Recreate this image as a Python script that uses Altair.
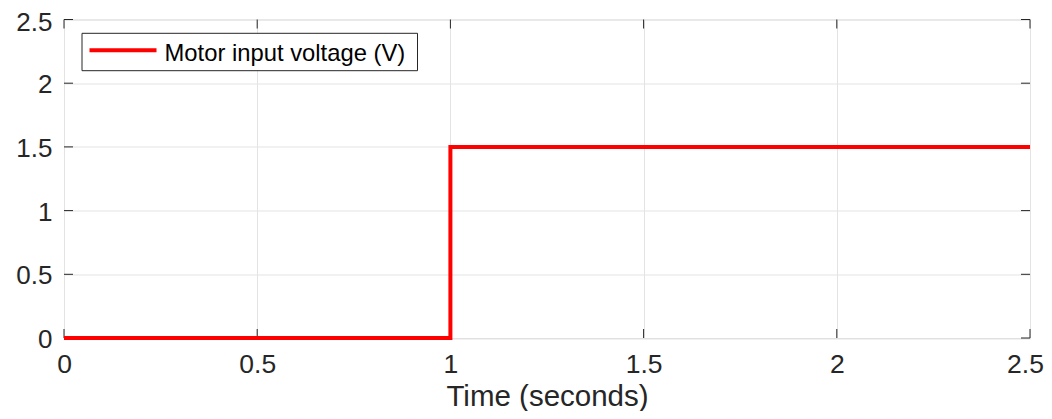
import altair as alt
import pandas as pd

# data
time_s = [0, 1, 1, 2.5]
voltage = [0, 0, 1.5, 1.5]
series_name = "Motor input voltage (V)"
series = [series_name] * len(time_s)

tick_x = [0, 0.5, 1, 1.5, 2, 2.5]
tick_y = [0, 0.5, 1, 1.5, 2, 2.5]

W, H = 966, 318.5
FONT = "Liberation Sans"
INK = "#262626"
RED = "#ff0000"

df = pd.DataFrame({"t": time_s, "v": voltage, "series": series})
tx = pd.DataFrame({"t": tick_x})
ty = pd.DataFrame({"v": tick_y})
leg = pd.DataFrame({"series": [series_name]})

xscale = alt.Scale(domain=[0, 2.5], nice=False, zero=False)
yscale = alt.Scale(domain=[0, 2.5], nice=False, zero=False)
cscale = alt.Scale(domain=[series_name], range=[RED])

line = alt.Chart(df).mark_line(strokeWidth=4, strokeJoin="miter", clip=False).encode(
    x=alt.X("t:Q", scale=xscale,
            axis=alt.Axis(values=tick_x, format="~g", title="Time (seconds)",
                          grid=True, gridColor="#e3e3e3", ticks=False, domain=False,
                          labelFont=FONT, labelFontSize=26.5, labelColor=INK,
                          labelPadding=13, labelFlush=False,
                          labelOffset={"condition": {"test": "datum.value == 2.5", "value": -5},
                                       "value": 0},
                          titleFont=FONT, titleFontSize=29.5, titleFontWeight="normal",
                          titleColor=INK, titleBaseline="alphabetic", titleY=67)),
    y=alt.Y("v:Q", scale=yscale,
            axis=alt.Axis(values=tick_y, format="~g", title=None,
                          grid=True, gridColor="#e3e3e3", ticks=False, domain=False,
                          labelFont=FONT, labelFontSize=26, labelColor=INK,
                          labelPadding=12, labelFlush=False,
                          labelOffset={"condition": {"test": "datum.value == 2.5", "value": 2.5},
                                       "value": 1.5})),
    color=alt.Color("series:N", scale=cscale, legend=None),
)

tick_len = 9
bottom_ticks = alt.Chart(tx).mark_rule(color=INK, strokeWidth=1).encode(
    x=alt.X("t:Q", scale=xscale), y=alt.value(H), y2=alt.value(H - tick_len))
top_ticks = alt.Chart(tx).mark_rule(color=INK, strokeWidth=1).encode(
    x=alt.X("t:Q", scale=xscale), y=alt.value(0), y2=alt.value(tick_len))
left_ticks = alt.Chart(ty).mark_rule(color=INK, strokeWidth=1).encode(
    y=alt.Y("v:Q", scale=yscale), x=alt.value(0), x2=alt.value(tick_len))
right_ticks = alt.Chart(ty).mark_rule(color=INK, strokeWidth=1).encode(
    y=alt.Y("v:Q", scale=yscale), x=alt.value(W - tick_len), x2=alt.value(W))

# legend box (manual, MATLAB style)
leg_box = alt.Chart(leg).mark_rect(fill="white", stroke=INK, strokeWidth=1).encode(
    x=alt.value(18), x2=alt.value(353.5), y=alt.value(13.8), y2=alt.value(51.2))
leg_line = alt.Chart(leg).mark_rule(strokeWidth=4).encode(
    x=alt.value(25.5), x2=alt.value(92.5), y=alt.value(30.8),
    color=alt.Color("series:N", scale=cscale, legend=None))
leg_text = alt.Chart(leg).mark_text(align="left", baseline="alphabetic", font=FONT,
                                    fontSize=23.8, color="black").encode(
    x=alt.value(100.5), y=alt.value(41.5), text="series:N")

chart = alt.layer(bottom_ticks, top_ticks, left_ticks, right_ticks, line,
                  leg_box, leg_line, leg_text).properties(
    width=W, height=H,
    autosize=alt.AutoSizeParams(type="none"),
    padding={"left": 56, "top": 11.5, "right": 14, "bottom": 73},
).configure_view(stroke=INK, strokeWidth=1).configure(background="white")

chart.save("out.html", embed_options={"renderer": "svg", "actions": False})
